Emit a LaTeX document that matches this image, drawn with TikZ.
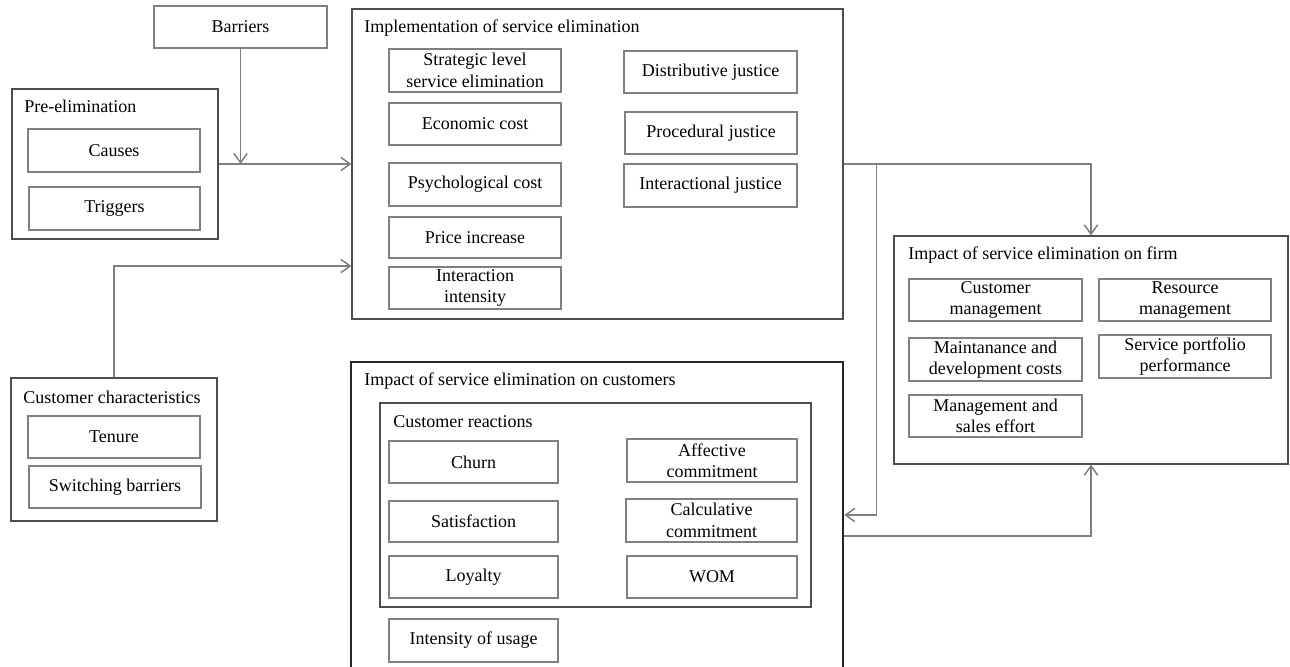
\documentclass[tikz,border=0pt]{standalone}
\usepackage{fontspec}
\setmainfont{Liberation Serif}
\usetikzlibrary{arrows.meta}
\definecolor{inner}{HTML}{808080}
\definecolor{outer}{HTML}{4D4D4D}
\definecolor{dark}{HTML}{262626}
\definecolor{conncol}{HTML}{7F7F7F}
\tikzset{
  bxat/.style args={#1/#2/#3/#4}{minimum width={(#3-#1)*0.75pt}, minimum height={(#4-#2)*0.75pt}, at={({(#1+#3)/2},{(#2+#4)/2})}},
  bx/.style={draw=inner, line width=0.9pt, inner sep=0pt, align=center, font=\fontsize{13.5}{16}\selectfont},
  obx/.style={draw=outer, line width=0.9pt, inner sep=0pt},
  ttl/.style={anchor=base west, inner sep=0pt, font=\fontsize{13.5}{16}\selectfont},
  conn/.style={draw=conncol, line width=1.1pt, -{Straight Barb[length=7pt,width=10pt]}}
}
\begin{document}
\begin{tikzpicture}[x=0.75pt,y=-0.75pt]
\useasboundingbox (0,0) rectangle (1290,667);
\clip (0,0) rectangle (1290,667);
\fill[white] (0,0) rectangle (1290,667);
% outer boxes
\node[obx, bxat={12/89/218/239}] (pre) {};
\node[obx, bxat={352/9/843/319}] (impl) {};
\node[obx, bxat={11/378/217/521}] (custchar) {};
\node[obx, bxat={894/236/1288/464}] (firm) {};
\node[draw=dark, line width=1.9pt, inner sep=0pt, bxat={351/362/843/700}] (custs) {};
\node[obx, bxat={380/403/811/607}] (reactions) {};
% titles
\node[ttl] (pretitle) at (24,112.5) {Pre-elimination};
\node[ttl] (impltitle) at (364,33) {Implementation of service elimination};
\node[ttl] (cctitle) at (23,403) {Customer characteristics};
\node[ttl] (firmtitle) at (908,259) {Impact of service elimination on firm};
\node[ttl] (custstitle) at (364,385) {Impact of service elimination on customers};
\node[ttl] (reacttitle) at (393,427) {Customer reactions};
% inner boxes
\node[bx, bxat={154/6/327/48}] (barriers) {Barriers};
\node[bx, bxat={28/129/200/172}] (causes) {Causes};
\node[bx, bxat={29/187/200/230}] (triggers) {Triggers};
\node[bx, bxat={389/49/561/92}] (strat) {Strategic level\\service elimination};
\node[bx, bxat={389/103/561/145}] (econ) {Economic cost};
\node[bx, bxat={389/163/561/206}] (psych) {Psychological cost};
\node[bx, bxat={389/217/561/258}] (price) {Price increase};
\node[bx, bxat={389/267/561/309}] (interint) {Interaction\\intensity};
\node[bx, bxat={624/51/797/93}] (distr) {Distributive justice};
\node[bx, bxat={625/112/797/154}] (proc) {Procedural justice};
\node[bx, bxat={624/164/797/207}] (interj) {Interactional justice};
\node[bx, bxat={28/416/200/458}] (tenure) {Tenure};
\node[bx, bxat={29/466/201/508}] (switch) {Switching barriers};
\node[bx, bxat={909/279/1082/321}] (custmgmt) {Customer\\management};
\node[bx, bxat={1099/279/1271/321}] (resmgmt) {Resource\\management};
\node[bx, bxat={909/338/1082/381}] (maint) {Maintanance and\\development costs};
\node[bx, bxat={1099/335/1271/378}] (portf) {Service portfolio\\performance};
\node[bx, bxat={909/395/1082/437}] (mgmtsales) {Management and\\sales effort};
\node[bx, bxat={389/441/558/483}] (churn) {Churn};
\node[bx, bxat={627/439/797/482}] (affect) {Affective\\commitment};
\node[bx, bxat={389/501/558/542}] (satis) {Satisfaction};
\node[bx, bxat={626/499/797/542}] (calc) {Calculative\\commitment};
\node[bx, bxat={389/556/558/598}] (loyal) {Loyalty};
\node[bx, bxat={627/556/797/598}] (wom) {WOM};
\node[bx, bxat={389/619/558/662}] (usage) {Intensity of usage};
% connectors
\coordinate (bj) at (barriers.south |- pre.east);
\draw[conn] (barriers.south) -- (bj);
\draw[conn] (pre.east) -- (impl.west |- pre.east);
\draw[conn] (custchar.north) |- ([yshift=-76.5pt]impl.west);
\draw[conn] (impl.east) -| (firm.north);
\coordinate (br) at ([xshift=24.75pt]impl.east);
\draw[conn] (br) |- ([yshift=12pt]custs.east);
\draw[conn] ([yshift=-3.75pt]custs.east) -| (firm.south);
\end{tikzpicture}
\end{document}
